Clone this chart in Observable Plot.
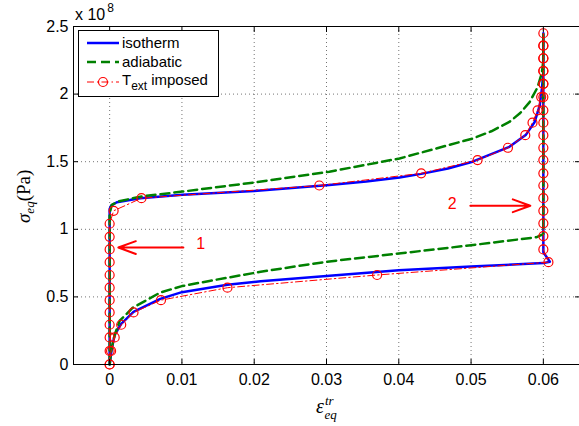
<!DOCTYPE html>
<html><head><meta charset="utf-8">
<script src="https://cdn.jsdelivr.net/npm/d3@7"></script>
<script src="https://cdn.jsdelivr.net/npm/@observablehq/plot@0.6"></script>
<style>
html,body{margin:0;padding:0;background:#fff;}
#chart{position:relative;width:579px;height:426px;}
</style></head><body><div id="chart"></div>
<script>
// tick values (stress in units of 1e8 Pa)
const xTicks = [0, 0.01, 0.02, 0.03, 0.04, 0.05, 0.06];
const yTicks = [0, 0.5, 1, 1.5, 2, 2.5];

// isotherm (blue solid)
const isoX = [0, 0, 0.0002, 0.001, 0.0042, 0.0101, 0.02, 0.0304, 0.0355, 0.0401, 0.0431, 0.0468, 0.0502, 0.0553, 0.0576, 0.0588, 0.0595, 0.0598, 0.06, 0.06,
              0.06, 0.0609, 0.06, 0.05, 0.04, 0.03, 0.0209, 0.0163, 0.01, 0.007, 0.0033, 0.0016, 0.0007, 0.0003, 0];
const isoY = [0, 1.15, 1.175, 1.2, 1.23, 1.255, 1.284, 1.328, 1.353, 1.383, 1.41, 1.45, 1.5, 1.61, 1.7, 1.794, 1.917, 2.04, 2.16, 2.45,
              0.83, 0.76, 0.75, 0.725, 0.697, 0.655, 0.615, 0.59, 0.535, 0.485, 0.39, 0.3, 0.22, 0.12, 0];

// adiabatic (green dashed)
const adiX = [0, 0, 0.0003, 0.0012, 0.0044, 0.0101, 0.02, 0.0304, 0.0401, 0.0502, 0.0528, 0.0553, 0.0568, 0.0581, 0.0592, 0.0598, 0.06, 0.06,
              0.06, 0.059, 0.05, 0.04, 0.03, 0.0209, 0.0138, 0.01, 0.007, 0.0032, 0.0014, 0.0007, 0.0002, 0];
const adiY = [0, 1.12, 1.18, 1.206, 1.243, 1.279, 1.346, 1.426, 1.524, 1.671, 1.725, 1.794, 1.86, 1.941, 2.05, 2.16, 2.25, 2.45,
              0.965, 0.941, 0.882, 0.821, 0.76, 0.686, 0.618, 0.58, 0.532, 0.42, 0.324, 0.22, 0.1, 0];

// T_ext imposed (red dash-dot with circles)
const extX = [0, 0, 0, 0, 0, 0, 0, 0, 0, 0, 0, 0,
              0.00055, 0.0044, 0.029, 0.0431, 0.0509, 0.0551, 0.0575, 0.0585, 0.0592, 0.0597, 0.06, 0.06, 0.06, 0.06, 0.06,
              0.06, 0.06, 0.06, 0.06, 0.06, 0.06, 0.06, 0.06, 0.06, 0.06, 0.06, 0.06, 0.06, 0.06, 0.06, 0.06, 0.06,
              0.0607, 0.037, 0.0163, 0.0071, 0.0033, 0.0016, 0.0007, 0.0002, 0];
const extY = [0, 0.1, 0.2, 0.294, 0.385, 0.476, 0.568, 0.662, 0.757, 0.851, 0.944, 1.041,
              1.137, 1.23, 1.324, 1.414, 1.512, 1.603, 1.696, 1.789, 1.88, 1.978, 2.076, 2.171, 2.265, 2.358, 2.45,
              2.358, 2.265, 2.171, 2.076, 1.978, 1.88, 1.789, 1.696, 1.603, 1.512, 1.414, 1.324, 1.23, 1.137, 1.044, 0.95, 0.851,
              0.757, 0.662, 0.568, 0.476, 0.385, 0.294, 0.2, 0.1, 0];

// annotations
const arrowLabels = ["1", "2"];
const arrowX1 = [0.0102, 0.0499];
const arrowX2 = [0.0012, 0.0582];
const arrowY = [0.865, 1.174];
const labelX = [0.0126, 0.0474];
const labelY = [0.89, 1.19];

const legendLabels = ["isotherm", "adiabatic", "T_ext imposed"];

const zip = (xs, ys) => xs.map((x, i) => ({x, y: ys[i]}));
const iso = zip(isoX, isoY);
const adi = zip(adiX, adiY);
const ext = zip(extX, extY);
const arrows = arrowLabels.map((l, i) => ({label: l, x1: arrowX1[i], x2: arrowX2[i], y: arrowY[i], lx: labelX[i], ly: labelY[i]}));

const BLUE = "#0000ff", GREEN = "#008000", RED = "#ff0000";

const svgEl = Plot.plot({
  width: 579, height: 426,
  marginLeft: 73, marginRight: 0, marginTop: 26, marginBottom: 62,
  x: {domain: [-0.005, 0.065], label: null},
  y: {domain: [0, 2.5], label: null},
  style: {fontFamily: "'Liberation Sans', Arial, sans-serif", fontSize: "16px", color: "black", background: "white", overflow: "visible"},
  marks: [
    Plot.gridX(xTicks, {stroke: "#000", strokeOpacity: 0.55, strokeDasharray: "1,3", strokeWidth: 1}),
    Plot.gridY(yTicks, {stroke: "#000", strokeOpacity: 0.55, strokeDasharray: "1,3", strokeWidth: 1}),
    Plot.line(iso, {x: "x", y: "y", stroke: BLUE, strokeWidth: 2.5}),
    Plot.line(adi, {x: "x", y: "y", stroke: GREEN, strokeWidth: 2.5, strokeDasharray: "9,5"}),
    Plot.line(ext, {x: "x", y: "y", stroke: RED, strokeWidth: 1, strokeDasharray: "7,3,1.5,3"}),
    Plot.dot(ext, {x: "x", y: "y", r: 4.5, stroke: RED, fill: "none", strokeWidth: 1.2}),
    Plot.arrow(arrows, {x1: "x1", x2: "x2", y1: "y", y2: "y", stroke: RED, strokeWidth: 2, headLength: 14, headAngle: 40}),
    Plot.text(arrows, {x: "lx", y: "ly", text: "label", fill: RED, fontSize: 16}),
    Plot.frame({stroke: "black", strokeWidth: 1}),
    Plot.axisX(xTicks, {anchor: "bottom", tickSize: -5, tickPadding: 14, tickFormat: d => String(d), label: null, fontSize: 16}),
    Plot.axisX(xTicks, {anchor: "top", tickSize: -5, tickFormat: () => "", label: null}),
    Plot.axisY(yTicks, {anchor: "left", tickSize: -5, tickPadding: 10, tickFormat: d => String(d), label: null, fontSize: 16}),
    Plot.axisY(yTicks, {anchor: "right", tickSize: -5, tickFormat: () => "", label: null})
  ]
});
document.getElementById("chart").appendChild(svgEl);

const svg = d3.select(svgEl);
const SANS = "'Liberation Sans', Arial, sans-serif";
const SERIF = "'Liberation Serif', 'DejaVu Serif', serif";

// x 10^8 multiplier
const mult = svg.append("text").attr("x", 75).attr("y", 20).attr("text-anchor", "start").attr("font-family", SANS).attr("font-size", 16).attr("fill", "black");
mult.append("tspan").text("x 10");
mult.append("tspan").attr("font-size", 12).attr("dx", 2).attr("dy", -8).text("8");

// legend
const lg = svg.append("g").attr("text-anchor", "start");
lg.append("rect").attr("x", 78.5).attr("y", 30.5).attr("width", 140).attr("height", 66).attr("fill", "white").attr("stroke", "black").attr("stroke-width", 1);
const rows = [43, 62, 82];
lg.append("line").attr("x1", 87).attr("x2", 119).attr("y1", rows[0]).attr("y2", rows[0]).attr("stroke", BLUE).attr("stroke-width", 2.5);
lg.append("line").attr("x1", 87).attr("x2", 119).attr("y1", rows[1]).attr("y2", rows[1]).attr("stroke", GREEN).attr("stroke-width", 2.5).attr("stroke-dasharray", "9,5");
lg.append("line").attr("x1", 87).attr("x2", 119).attr("y1", rows[2]).attr("y2", rows[2]).attr("stroke", RED).attr("stroke-width", 1).attr("stroke-dasharray", "7,3,1.5,3");
lg.append("circle").attr("cx", 103).attr("cy", rows[2]).attr("r", 4.5).attr("fill", "none").attr("stroke", RED).attr("stroke-width", 1.2);
lg.append("text").attr("x", 122).attr("y", rows[0] + 5).attr("font-family", SANS).attr("font-size", 15).text(legendLabels[0]);
lg.append("text").attr("x", 122).attr("y", rows[1] + 5).attr("font-family", SANS).attr("font-size", 15).text(legendLabels[1]);
const t3 = lg.append("text").attr("x", 122).attr("y", rows[2] + 3).attr("font-family", SANS).attr("font-size", 15);
const parts = legendLabels[2].split(/_| /);
t3.append("tspan").text(parts[0]);
t3.append("tspan").attr("font-size", 12).attr("dy", 5).text(parts[1]);
t3.append("tspan").attr("dy", -5).attr("dx", 4).text(parts[2]);

// x label: epsilon_eq^tr
const xl = svg.append("text").attr("x", 316).attr("y", 413).attr("text-anchor", "start").attr("font-family", SERIF).attr("font-style", "italic").attr("font-size", 20).attr("fill", "black");
xl.append("tspan").text("ε");
const sup = xl.append("tspan").attr("font-size", 13).attr("dx", 1).attr("dy", -8).text("tr");
const supLen = sup.node().getComputedTextLength();
xl.append("tspan").attr("font-size", 13).attr("dx", -supLen).attr("dy", 14).text("eq");

// y label: sigma_eq (Pa)
const yl = svg.append("text").attr("transform", "translate(30,223) rotate(-90)").attr("text-anchor", "start").attr("font-family", SERIF).attr("font-size", 19).attr("fill", "black");
yl.append("tspan").attr("font-style", "italic").text("σ");
yl.append("tspan").attr("font-style", "italic").attr("font-size", 13).attr("dy", 4).text("eq");
yl.append("tspan").attr("dy", -4).text("(Pa)");
</script>
</body></html>
